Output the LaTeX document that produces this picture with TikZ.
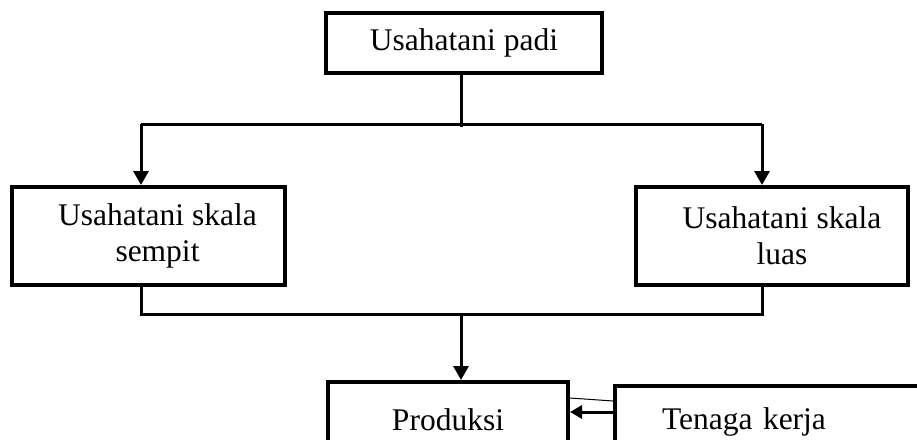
\documentclass[tikz,border=0pt]{standalone}
\usepackage{fontspec}
\setmainfont{Liberation Serif}
\usetikzlibrary{arrows.meta}
\begin{document}
\begin{tikzpicture}[x=1pt,y=1pt,
  boxstyle/.style={draw,line width=4pt,inner sep=0pt,align=center,font=\fontsize{31.5}{36}\selectfont},
  conn/.style={line width=3pt},
  arr/.style={line width=3pt,-{Triangle[width=15pt,length=14pt]}}]
\useasboundingbox (0,0) rectangle (917,-439);
\clip (0,0) rectangle (917,-439);
\node[boxstyle,minimum width=276,minimum height=60] (top) at (464,-43) {Usahatani padi};
\node[boxstyle,minimum width=273,minimum height=98] (left) at (148.5,-236) {\hspace*{18pt}Usahatani skala\\\hspace*{18pt}sempit};
\node[boxstyle,minimum width=272,minimum height=98] (right) at (772,-236) {\hspace*{20pt}Usahatani skala\\\hspace*{20pt}luas};
\node[boxstyle,minimum width=240,minimum height=76] (prod) at (448,-420) {Produksi};
\node[boxstyle,minimum width=330,minimum height=72,anchor=west,text width=236,align=left,inner xsep=47pt] (tk) at (613,-422) {Tenaga kerja};
\coordinate (J) at (461,-124);
\coordinate (L) at (141,-124);
\coordinate (R) at (762,-124);
\coordinate (B) at (461,-314);
\draw[conn] (top.south -| J) -- ([yshift=-3pt]J);
\draw[conn] (L) -- (R);
\draw[arr] (L) -- (L |- left.north);
\draw[arr] (R) -- (R |- right.north);
\draw[conn] (L |- left.south) |- (B) -| (R |- right.south);
\draw[arr] (B) -- (B |- prod.north);
\draw[line width=3pt,-{Triangle[width=13pt,length=12pt]}] (tk.west |- 0,-412) -- (prod.east |- 0,-412);
\draw[line width=1pt] (prod.east |- 0,-398) -- (tk.west |- 0,-401);
\end{tikzpicture}
\end{document}
